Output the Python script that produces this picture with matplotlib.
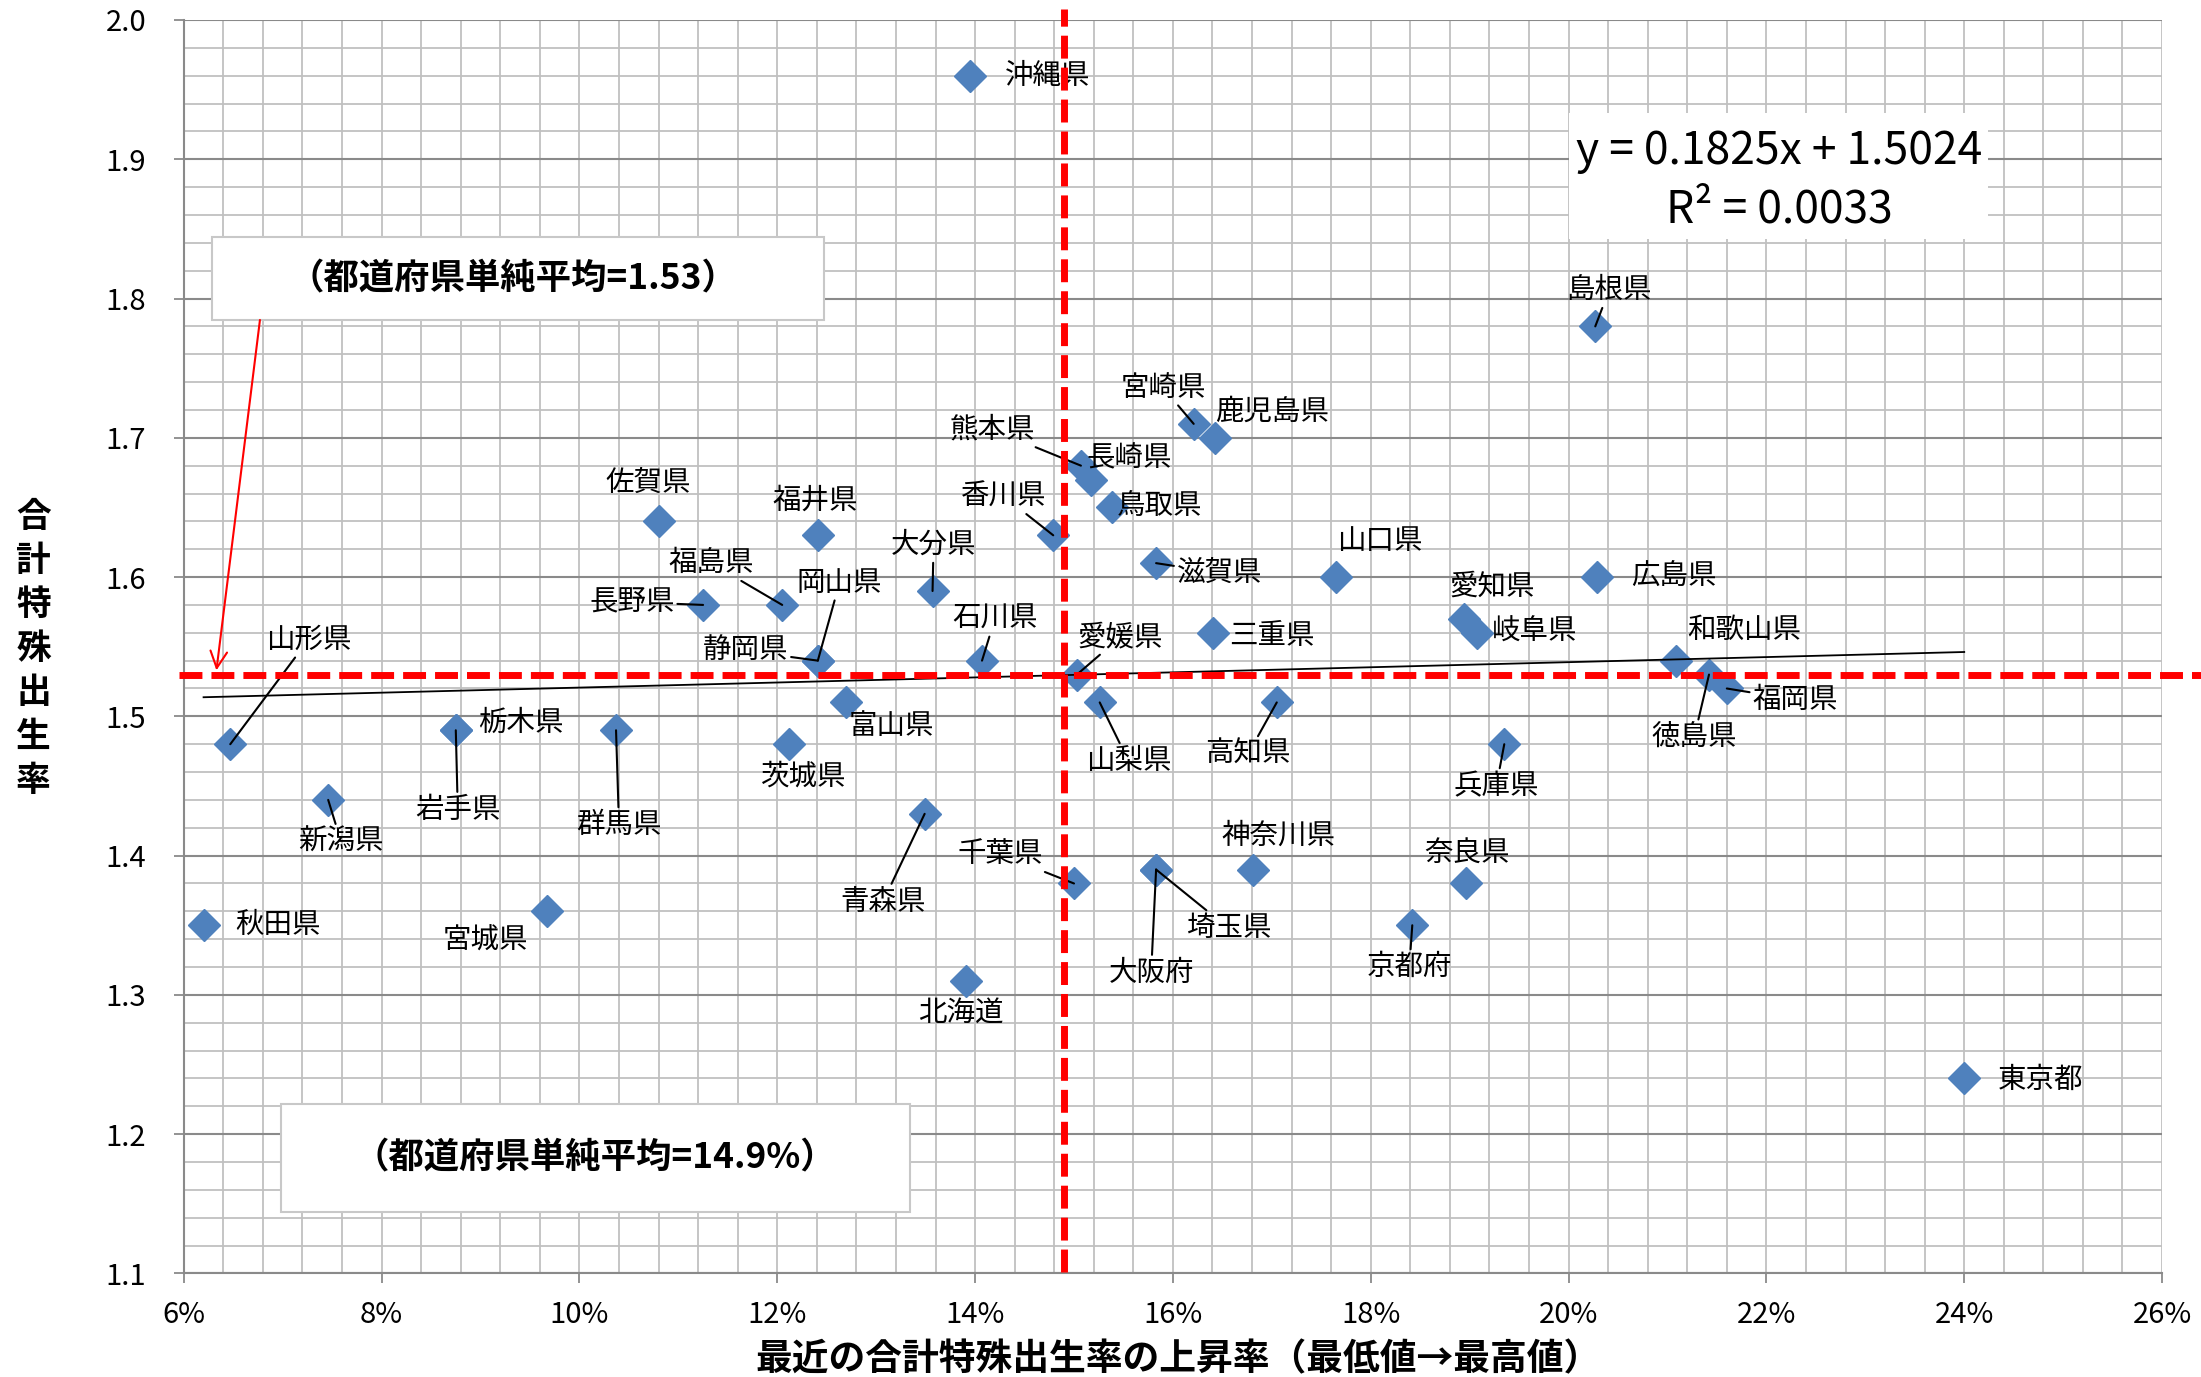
import matplotlib
matplotlib.use('Agg')
import matplotlib.pyplot as plt
from matplotlib.patches import Rectangle
from matplotlib.ticker import MultipleLocator, FuncFormatter

plt.rcParams['font.family'] = ['Noto Sans CJK JP', 'DejaVu Sans']

# data: rise of TFR (lowest -> latest high, %) and TFR per prefecture
names = ['沖縄県', '島根県', '宮崎県', '鹿児島県', '熊本県', '長崎県', '佐賀県', '福井県',
         '香川県', '鳥取県', '大分県', '山口県', '福島県', '滋賀県', '広島県', '愛知県',
         '長野県', '岡山県', '石川県', '岐阜県', '愛媛県', '三重県', '和歌山県', '山形県',
         '静岡県', '福岡県', '徳島県', '栃木県', '富山県', '山梨県', '高知県', '群馬県',
         '兵庫県', '茨城県', '岩手県', '新潟県', '青森県', '千葉県', '神奈川県', '奈良県',
         '埼玉県', '秋田県', '宮城県', '京都府', '大阪府', '北海道', '東京都']
rise_pct = [13.95, 20.27, 16.21, 16.43, 15.07, 15.17, 10.80, 12.41,
            14.79, 15.38, 13.57, 17.65, 12.05, 15.83, 20.29, 18.94,
            11.25, 12.41, 14.07, 19.07, 15.03, 16.41, 21.09, 6.47,
            12.41, 21.60, 21.42, 8.75, 12.69, 15.26, 17.05, 10.37,
            19.35, 12.12, 8.75, 7.46, 13.49, 15.00, 16.81, 18.96,
            15.83, 6.20, 9.67, 18.42, 15.83, 13.91, 24.00]
tfr = [1.96, 1.78, 1.71, 1.70, 1.68, 1.67, 1.64, 1.63,
       1.63, 1.65, 1.59, 1.60, 1.58, 1.61, 1.60, 1.57,
       1.58, 1.54, 1.54, 1.56, 1.53, 1.56, 1.54, 1.48,
       1.54, 1.52, 1.53, 1.49, 1.51, 1.51, 1.51, 1.49,
       1.48, 1.48, 1.49, 1.44, 1.43, 1.38, 1.39, 1.38,
       1.39, 1.35, 1.36, 1.35, 1.39, 1.31, 1.24]

mean_rise = 14.9
mean_tfr = 1.53
slope = 0.1825
intercept = 1.5024
r2 = 0.0033

# label placement (data coords) and whether a leader line is drawn
label_pos = [(14.73, 1.960), (20.41, 1.806), (15.90, 1.736), (17.00, 1.719), (14.17, 1.706),
             (15.56, 1.685), (10.69, 1.667), (12.38, 1.655), (14.29, 1.658), (15.86, 1.651),
             (13.58, 1.623), (18.09, 1.626), (11.33, 1.610), (16.47, 1.603), (21.06, 1.600),
             (19.23, 1.593), (10.53, 1.582), (12.63, 1.596), (14.20, 1.570), (19.66, 1.561),
             (15.47, 1.557), (17.00, 1.558), (21.78, 1.562), (7.26, 1.555), (11.68, 1.547),
             (22.29, 1.512), (21.27, 1.485), (9.41, 1.495), (13.15, 1.493), (15.55, 1.468),
             (16.76, 1.473), (10.40, 1.422), (19.27, 1.450), (12.27, 1.457), (8.77, 1.433),
             (7.59, 1.410), (13.07, 1.367), (14.25, 1.401), (17.07, 1.414), (18.97, 1.401),
             (16.56, 1.348), (6.95, 1.350), (9.05, 1.339), (18.39, 1.320), (15.78, 1.316),
             (13.86, 1.287), (24.77, 1.239)]
leader = [0, 1, 1, 0, 1, 0, 0, 0, 1, 0, 1, 0, 1, 1, 0, 0, 1, 1, 1, 0, 1, 0, 0, 1,
          1, 1, 1, 0, 0, 1, 1, 1, 1, 0, 1, 1, 1, 1, 0, 0, 1, 0, 0, 1, 1, 0, 0]

fig = plt.figure(figsize=(22.01, 13.77), dpi=100)
ax = fig.add_axes([0.0835, 0.0752, 0.8988, 0.9103])

ax.set_xlim(6, 26)
ax.set_ylim(1.1, 2.0)
ax.xaxis.set_major_locator(MultipleLocator(2))
ax.xaxis.set_minor_locator(MultipleLocator(0.4))
ax.yaxis.set_major_locator(MultipleLocator(0.1))
ax.yaxis.set_minor_locator(MultipleLocator(0.02))
ax.xaxis.set_major_formatter(FuncFormatter(lambda v, p: f'{v:.0f}%'))
ax.yaxis.set_major_formatter(FuncFormatter(lambda v, p: f'{v:.1f}'))

ax.grid(which='minor', color='#C0C0C0', lw=1.3)
ax.grid(which='major', axis='x', color='#C0C0C0', lw=1.3)
ax.grid(which='major', axis='y', color='#8A8A8A', lw=1.5)
ax.tick_params(which='minor', length=0)
ax.tick_params(which='major', length=7, width=1.3, color='#8A8A8A', labelsize=21)
ax.tick_params(axis='y', pad=20)
ax.tick_params(axis='x', pad=12)
for s in ['top', 'right']:
    ax.spines[s].set_visible(False)
for s in ['left', 'bottom']:
    ax.spines[s].set_color('#8A8A8A')
    ax.spines[s].set_linewidth(1.5)

# markers
ax.plot(rise_pct, tfr, 'D', color='#4F81BD', markersize=16.5, zorder=3)

# trend line
xt = [min(rise_pct), max(rise_pct)]
ax.plot(xt, [slope * v / 100 + intercept for v in xt], color='black', lw=1.3, zorder=4)

# labels
for name, (lx, ly), ld, x, y in zip(names, label_pos, leader, rise_pct, tfr):
    if ld:
        ax.annotate(name, xy=(x, y), xytext=(lx, ly), fontsize=20.5, ha='center', va='center',
                    arrowprops=dict(arrowstyle='-', color='black', lw=1.5, shrinkA=0, shrinkB=0),
                    zorder=5)
    else:
        ax.text(lx, ly, name, fontsize=20.5, ha='center', va='center', zorder=5)

# mean lines
ax.plot([5.947, 26.4], [mean_tfr, mean_tfr], color='red', lw=5, dashes=(3.3, 1.3),
        clip_on=False, zorder=6)
ax.plot([mean_rise, mean_rise], [1.101, 2.0077], color='red', lw=5, dashes=(3.3, 1.3),
        clip_on=False, zorder=6)

# annotation boxes
ax.add_patch(Rectangle((6.285, 1.7846), 6.185, 0.0594, fc='white', ec='#C8C8C8', lw=1.5, zorder=5))
ax.text(9.33, 1.8140, f'（都道府県単純平均={mean_tfr}）', fontsize=25.5, fontweight='bold',
        ha='center', va='center', zorder=6)
ax.annotate('', xy=(6.33, 1.533), xytext=(6.77, 1.7846),
            arrowprops=dict(arrowstyle='->,head_length=0.6,head_width=0.3', color='red', lw=1.5,
                            mutation_scale=20, shrinkA=0, shrinkB=0), zorder=7)

ax.add_patch(Rectangle((6.978, 1.1438), 6.367, 0.078, fc='white', ec='#C8C8C8', lw=1.5, zorder=5))
ax.text(10.16, 1.1830, f'（都道府県単純平均={mean_rise}%）', fontsize=25.5, fontweight='bold',
        ha='center', va='center', zorder=6)

ax.add_patch(Rectangle((20.008, 1.8426), 4.229, 0.0904, fc='white', ec='none', zorder=5))
ax.text(22.13, 1.906, f'y = {slope}x + {intercept}', fontsize=32, ha='center', va='center', zorder=6)
ax.text(22.13, 1.864, f'R² = {r2}', fontsize=32, ha='center', va='center', zorder=6)

# axis titles
fig.text(0.0152, 0.529, '\n'.join('合計特殊出生率'), fontsize=25, fontweight='bold',
         ha='center', va='center', linespacing=1.32)
fig.text(0.5352, 0.0123, '最近の合計特殊出生率の上昇率（最低値→最高値）', fontsize=26.5,
         fontweight='bold', ha='center', va='center')

fig.savefig('out.png', dpi=100)
